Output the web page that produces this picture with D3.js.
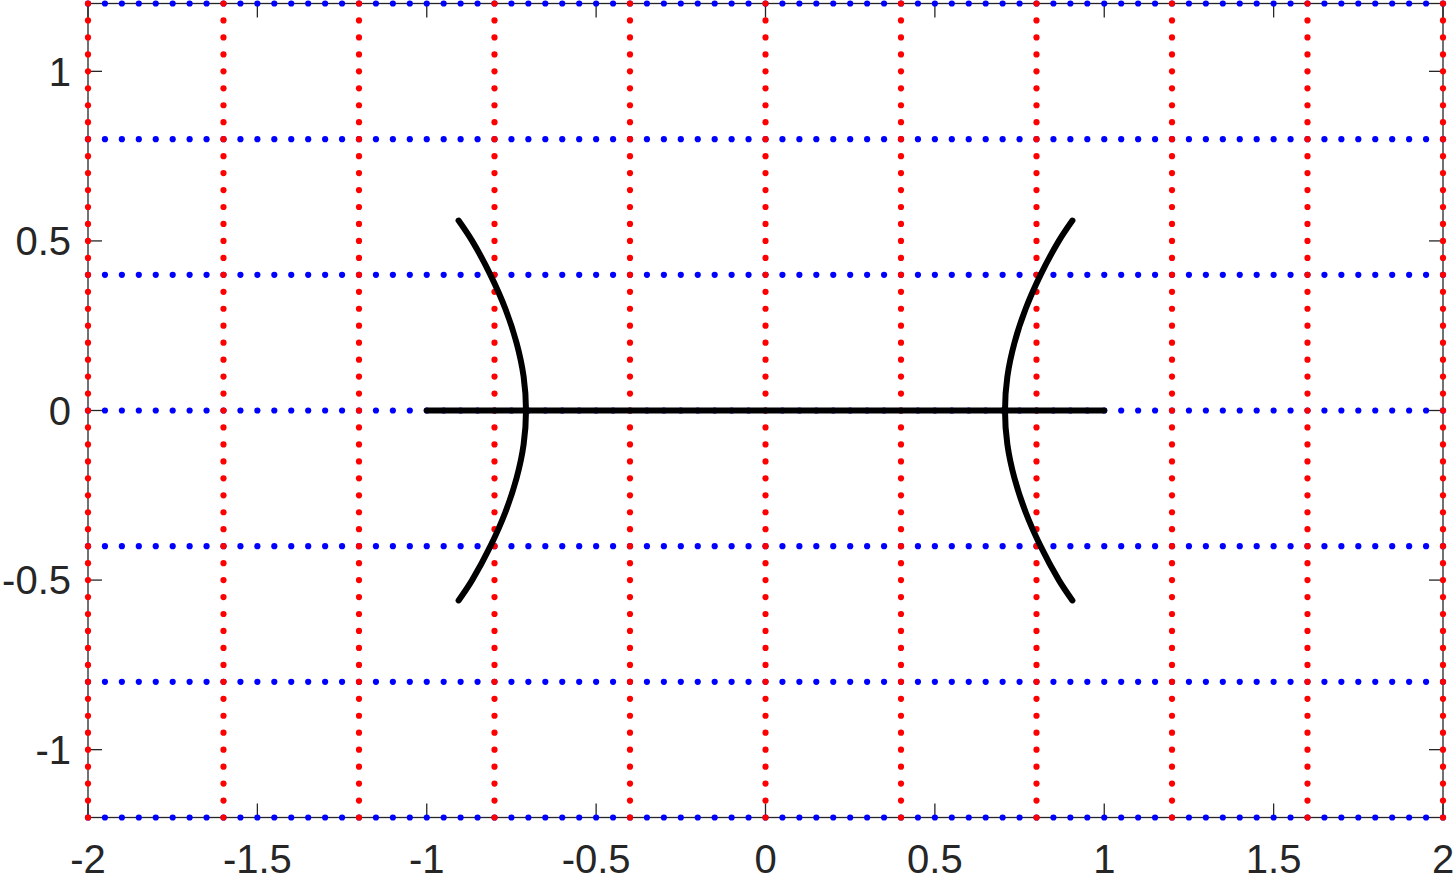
<!DOCTYPE html>
<html>
<head>
<meta charset="utf-8">
<script src="https://cdn.jsdelivr.net/npm/d3@7"></script>
<style>
  html, body { margin: 0; padding: 0; background: #fff; }
  svg { display: block; }
  text { font-family: "Liberation Sans", Arial, sans-serif; }
</style>
</head>
<body>
<svg id="chart" width="1454" height="877"></svg>
<script>
// ---- data ----
const xTicks = [-2, -1.5, -1, -0.5, 0, 0.5, 1, 1.5, 2];
const yTicks = [-1, -0.5, 0, 0.5, 1];
const xGrid = [-2, -1.6, -1.2, -0.8, -0.4, 0, 0.4, 0.8, 1.2, 1.6, 2];
const yGrid = [-1.2, -0.8, -0.4, 0, 0.4, 0.8, 1.2];
// horizontal segment on the real axis
const segX = [-1, 1];
const segY = [0, 0];
// branches: y values and x values
const branchY = [-0.56, -0.5, -0.4, -0.3, -0.2, -0.1, 0, 0.1, 0.2, 0.3, 0.4, 0.5, 0.56];
const branchRX = [0.906, 0.866, 0.812, 0.768, 0.735, 0.714, 0.707, 0.714, 0.735, 0.768, 0.812, 0.866, 0.906];
const branchLX = [-0.906, -0.866, -0.812, -0.768, -0.735, -0.714, -0.707, -0.714, -0.735, -0.768, -0.812, -0.866, -0.906];
const dotStep = 0.05;

// ---- layout ----
const svg = d3.select("#chart");
const x = d3.scaleLinear().domain([-2, 2]).range([88, 1443]);
const y = d3.scaleLinear().domain([-1.2, 1.2]).range([817.5, 3.5]);
const axisColor = "#262626";
const fontSize = 40;

// box
svg.append("rect")
  .attr("x", x(-2)).attr("y", y(1.2))
  .attr("width", x(2) - x(-2)).attr("height", y(-1.2) - y(1.2))
  .attr("fill", "none").attr("stroke", axisColor).attr("stroke-width", 1.3);

// ticks (inward, all four sides)
const tickLen = 14;
const tk = svg.append("g").attr("stroke", axisColor).attr("stroke-width", 1.3);
xTicks.forEach(v => {
  tk.append("line").attr("x1", x(v)).attr("x2", x(v)).attr("y1", y(-1.2)).attr("y2", y(-1.2) - tickLen);
  tk.append("line").attr("x1", x(v)).attr("x2", x(v)).attr("y1", y(1.2)).attr("y2", y(1.2) + tickLen);
});
yTicks.forEach(v => {
  tk.append("line").attr("y1", y(v)).attr("y2", y(v)).attr("x1", x(-2)).attr("x2", x(-2) + tickLen);
  tk.append("line").attr("y1", y(v)).attr("y2", y(v)).attr("x1", x(2)).attr("x2", x(2) - tickLen);
});

// tick labels
svg.append("g").selectAll("text").data(xTicks).join("text")
  .attr("x", d => x(d)).attr("y", 873)
  .attr("text-anchor", "middle").attr("font-size", fontSize).attr("fill", axisColor)
  .text(d => String(d));
svg.append("g").selectAll("text").data(yTicks).join("text")
  .attr("x", 71).attr("y", d => y(d)).attr("dy", "0.36em")
  .attr("text-anchor", "end").attr("font-size", fontSize).attr("fill", axisColor)
  .text(d => String(d));

// dotted grid: blue horizontal, then red vertical on top
const nX = Math.round(4 / dotStep), nY = Math.round(2.4 / dotStep);
const dotR = 3.1;
const blue = svg.append("g").attr("fill", "#0000ff");
yGrid.forEach(v => {
  blue.selectAll(null).data(d3.range(nX + 1)).join("circle")
    .attr("cx", i => x(-2 + i * dotStep)).attr("cy", y(v)).attr("r", dotR);
});
const red = svg.append("g").attr("fill", "#ff0000");
xGrid.forEach(v => {
  red.selectAll(null).data(d3.range(nY + 1)).join("circle")
    .attr("cx", x(v)).attr("cy", i => y(-1.2 + i * dotStep)).attr("r", dotR);
});

// curves
const line = d3.line().x(d => x(d[0])).y(d => y(d[1])).curve(d3.curveCatmullRom);
const curves = svg.append("g").attr("fill", "none").attr("stroke", "#000")
  .attr("stroke-width", 6).attr("stroke-linecap", "round").attr("stroke-linejoin", "round");
curves.append("path").attr("d", line(segX.map((v, i) => [v, segY[i]])));
curves.append("path").attr("d", line(branchY.map((v, i) => [branchRX[i], v])));
curves.append("path").attr("d", line(branchY.map((v, i) => [branchLX[i], v])));
</script>
</body>
</html>
